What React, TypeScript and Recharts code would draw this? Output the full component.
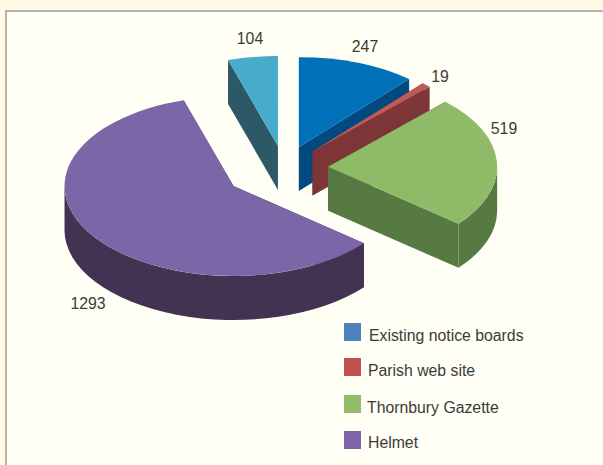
import { Legend, Pie, PieChart } from 'recharts';

const categories = ['Existing notice boards', 'Parish web site', 'Thornbury Gazette', 'Helmet', 'Other'];
const values = [247, 19, 519, 1293, 104];
const topColors = ['#0070B8', '#BE5A58', '#8FBA68', '#7B66A7', '#47ACCC'];
const sideColors = ['#004A80', '#7E3537', '#567A42', '#423352', '#2C5868'];
const explode = [42, 42, 44, 61, 42];
const labelSpots = [
  [365, 46],
  [440, 76],
  [504, 128],
  [88, 303],
  [250, 38],
];

const legendNames = categories.slice(0, 4);
const legendColors = ['#4C80C0', '#C0504D', '#92BD6B', '#8064A8'];
const legendTops = [323, 358, 395, 431];
const legendTextLeft = [369, 368, 367, 368];
const legendTextMiddle = [335, 370, 407, 442];

const tableData = categories.map((name, i) => ({ name, value: values[i], index: i }));

const SQUASH = 0.532;
const DEPTH = 44;
const FONT = '"Liberation Sans", Arial, sans-serif';

function Slice3D(props: any) {
  const { cx, cy, outerRadius, startAngle, endAngle, midAngle, payload } = props;
  const i = payload.index;
  const rad = Math.PI / 180;
  const ax = cx + explode[i] * Math.cos(midAngle * rad);
  const ay = cy - explode[i] * SQUASH * Math.sin(midAngle * rad);
  const ry = outerRadius * SQUASH;
  const at = (deg: number, drop = 0) => ({
    x: ax + outerRadius * Math.cos(deg * rad),
    y: ay - ry * Math.sin(deg * rad) + drop,
  });
  const s = at(startAngle);
  const e = at(endAngle);
  const sd = at(startAngle, DEPTH);
  const ed = at(endAngle, DEPTH);
  const large = Math.abs(startAngle - endAngle) > 180 ? 1 : 0;
  const top = `M${ax},${ay} L${s.x},${s.y} A${outerRadius},${ry} 0 ${large} 1 ${e.x},${e.y} Z`;
  const wallA = `M${ax},${ay} L${s.x},${s.y} L${sd.x},${sd.y} L${ax},${ay + DEPTH} Z`;
  const wallB = `M${ax},${ay} L${e.x},${e.y} L${ed.x},${ed.y} L${ax},${ay + DEPTH} Z`;

  // only the front half of the rim can be seen (0 to -180 degrees)
  const rimFrom = Math.min(startAngle, 0);
  const rimTo = Math.max(endAngle, -180);
  let rim = '';
  if (rimFrom > rimTo) {
    const a = at(rimFrom);
    const b = at(rimTo);
    const ad = at(rimFrom, DEPTH);
    const bd = at(rimTo, DEPTH);
    rim = `M${a.x},${a.y} A${outerRadius},${ry} 0 0 1 ${b.x},${b.y} L${bd.x},${bd.y} A${outerRadius},${ry} 0 0 0 ${ad.x},${ad.y} Z`;
  }

  return (
    <g>
      <path d={wallA} fill={sideColors[i]} />
      <path d={wallB} fill={sideColors[i]} />
      {rim && <path d={rim} fill={sideColors[i]} />}
      <path d={top} fill={topColors[i]} />
    </g>
  );
}

function sliceLabel(props: any) {
  const i = props.payload.index;
  return (
    <text
      x={labelSpots[i][0]}
      y={labelSpots[i][1]}
      textAnchor="middle"
      dominantBaseline="central"
      fontFamily={FONT}
      fontSize={15.8}
      fill="#3a3a3a"
    >
      {values[i]}
    </text>
  );
}

function LegendBox() {
  return (
    <svg width={603} height={465} style={{ position: 'absolute', left: 0, top: 0 }}>
      {legendNames.map((name, i) => (
        <g key={name}>
          <rect x={344} y={legendTops[i]} width={17} height={18} fill={legendColors[i]} />
          <text
            x={legendTextLeft[i]}
            y={legendTextMiddle[i]}
            dominantBaseline="central"
            fontFamily={FONT}
            fontSize={15.8}
            fill="#3a3a3a"
          >
            {name}
          </text>
        </g>
      ))}
    </svg>
  );
}

export default function App() {
  return (
    <div style={{ position: 'absolute', left: 0, top: 0, width: 603, height: 465, background: '#FFF9E6', overflow: 'hidden' }}>
      <div
        style={{
          position: 'absolute',
          left: 5,
          top: 10,
          width: 598,
          height: 455,
          background: '#FFFFF5',
          borderLeft: '2px solid #B4B4AC',
          borderTop: '2px solid #B4B4AC',
          boxSizing: 'border-box',
        }}
      />
      <PieChart width={603} height={465} margin={{ top: 0, right: 0, bottom: 0, left: 0 }} style={{ position: 'absolute', left: 0, top: 0 }}>
        <Pie
          data={tableData}
          dataKey="value"
          nameKey="name"
          cx={284.2}
          cy={168}
          innerRadius={0}
          outerRadius={169}
          startAngle={90}
          endAngle={-270}
          stroke="none"
          shape={Slice3D}
          label={sliceLabel}
          labelLine={false}
          isAnimationActive={false}
        />
        <Legend content={LegendBox} wrapperStyle={{ position: 'absolute', left: 0, top: 0, width: 603, height: 465 }} />
      </PieChart>
    </div>
  );
}
